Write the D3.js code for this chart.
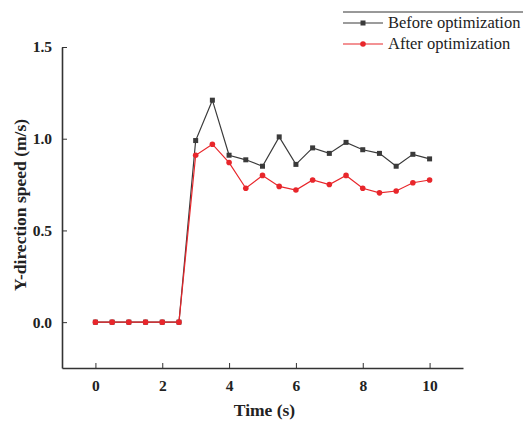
<html>

<head>
    <script src="https://d3js.org/d3.v7.min.js" charset="utf-8"></script>
    <style>
        body { margin: 0; background: #fff; }
        text { font-family: "Liberation Serif", "DejaVu Serif", serif; }
    </style>
</head>

<body>
    <script type="text/javascript">
        var width = 523;
        var height = 425;

        var margin = { left: 62, right: 60, top: 47, bottom: 57 };

        // data
        var time = [0, 0.5, 1, 1.5, 2, 2.5, 3, 3.5, 4, 4.5, 5, 5.5, 6, 6.5, 7, 7.5, 8, 8.5, 9, 9.5, 10];
        var before = [0, 0, 0, 0, 0, 0, 0.99, 1.21, 0.91, 0.885, 0.85, 1.01, 0.86, 0.95, 0.92, 0.98, 0.94, 0.92, 0.85, 0.915, 0.89];
        var after = [0, 0, 0, 0, 0, 0, 0.91, 0.97, 0.87, 0.73, 0.80, 0.74, 0.72, 0.775, 0.75, 0.80, 0.73, 0.705, 0.715, 0.76, 0.775];
        var xTicks = [0, 2, 4, 6, 8, 10];
        var yTicks = [0, 0.5, 1.0, 1.5];
        var seriesNames = ["Before optimization", "After optimization"];
        var seriesColors = ["#3a3a3a", "#e8262b"];

        const svg = d3.select("body").append("svg")
            .attr("width", width)
            .attr("height", height);

        var xScale = d3.scaleLinear([-1, 11], [margin.left, width - margin.right]);
        var yScale = d3.scaleLinear([-0.25, 1.5], [height - margin.bottom, margin.top]);

        // axes, ticks pointing inward like Origin does
        var xAxis = d3.axisBottom(xScale)
            .tickValues(xTicks)
            .tickFormat(d3.format("d"))
            .tickSizeInner(-5)
            .tickSizeOuter(0)
            .tickPadding(12);
        var yAxis = d3.axisLeft(yScale)
            .tickValues(yTicks)
            .tickFormat(d3.format(".1f"))
            .tickSizeInner(-5)
            .tickSizeOuter(0)
            .tickPadding(10);

        var gx = svg.append("g")
            .attr("transform", `translate(0, ${height - margin.bottom})`)
            .call(xAxis);
        var gy = svg.append("g")
            .attr("transform", `translate(${margin.left}, 0)`)
            .call(yAxis);

        [gx, gy].forEach(g => {
            g.select(".domain").attr("stroke", "#333").attr("stroke-width", 1.6);
            g.selectAll(".tick line").attr("stroke", "#333").attr("stroke-width", 1);
            g.selectAll(".tick text")
                .attr("fill", "#222")
                .style("font-size", "15.5px")
                .style("font-weight", "bold");
        });

        svg.append("text")
            .attr("x", (xScale.range()[0] + xScale.range()[1]) / 2 + 2)
            .attr("y", 416)
            .attr("text-anchor", "middle")
            .style("font-size", "17.5px")
            .style("font-weight", "bold")
            .attr("fill", "#222")
            .text("Time (s)");

        svg.append("text")
            .attr("transform", "translate(26, 205) rotate(-90)")
            .attr("text-anchor", "middle")
            .style("font-size", "17.5px")
            .style("font-weight", "bold")
            .attr("fill", "#222")
            .text("Y-direction speed (m/s)");

        var allSeries = [before, after];

        var line = d3.line()
            .x((d, i) => xScale(time[i]))
            .y(d => yScale(d));

        // Before first, After drawn over it (red shows on the shared zero stretch)
        [0, 1].forEach(s => {
            svg.append("path")
                .datum(allSeries[s])
                .attr("fill", "none")
                .attr("stroke", seriesColors[s])
                .attr("stroke-width", 1.2)
                .attr("d", line);

            if (s === 0) {
                svg.append("g").selectAll("rect")
                    .data(allSeries[s])
                    .join("rect")
                    .attr("x", (d, i) => xScale(time[i]) - 2.5)
                    .attr("y", d => yScale(d) - 2.5)
                    .attr("width", 5)
                    .attr("height", 5)
                    .attr("fill", seriesColors[s]);
            } else {
                svg.append("g").selectAll("circle")
                    .data(allSeries[s])
                    .join("circle")
                    .attr("cx", (d, i) => xScale(time[i]))
                    .attr("cy", d => yScale(d))
                    .attr("r", 2.8)
                    .attr("fill", seriesColors[s]);
            }
        });

        // legend
        var legend = svg.append("g");
        legend.append("line")
            .attr("x1", 343).attr("x2", width)
            .attr("y1", 12).attr("y2", 12)
            .attr("stroke", "#333")
            .attr("stroke-width", 1);

        seriesNames.forEach((name, i) => {
            var y = 23 + i * 21;
            legend.append("line")
                .attr("x1", 343).attr("x2", 383)
                .attr("y1", y).attr("y2", y)
                .attr("stroke", seriesColors[i])
                .attr("stroke-width", 1.2);
            if (i === 0) {
                legend.append("rect")
                    .attr("x", 360.5).attr("y", y - 2.5)
                    .attr("width", 5).attr("height", 5)
                    .attr("fill", seriesColors[i]);
            } else {
                legend.append("circle")
                    .attr("cx", 363).attr("cy", y)
                    .attr("r", 2.8)
                    .attr("fill", seriesColors[i]);
            }
            legend.append("text")
                .attr("x", 388)
                .attr("y", y + 5)
                .style("font-size", "16.5px")
                .attr("fill", "#222")
                .text(name);
        });
    </script>
</body>

</html>
